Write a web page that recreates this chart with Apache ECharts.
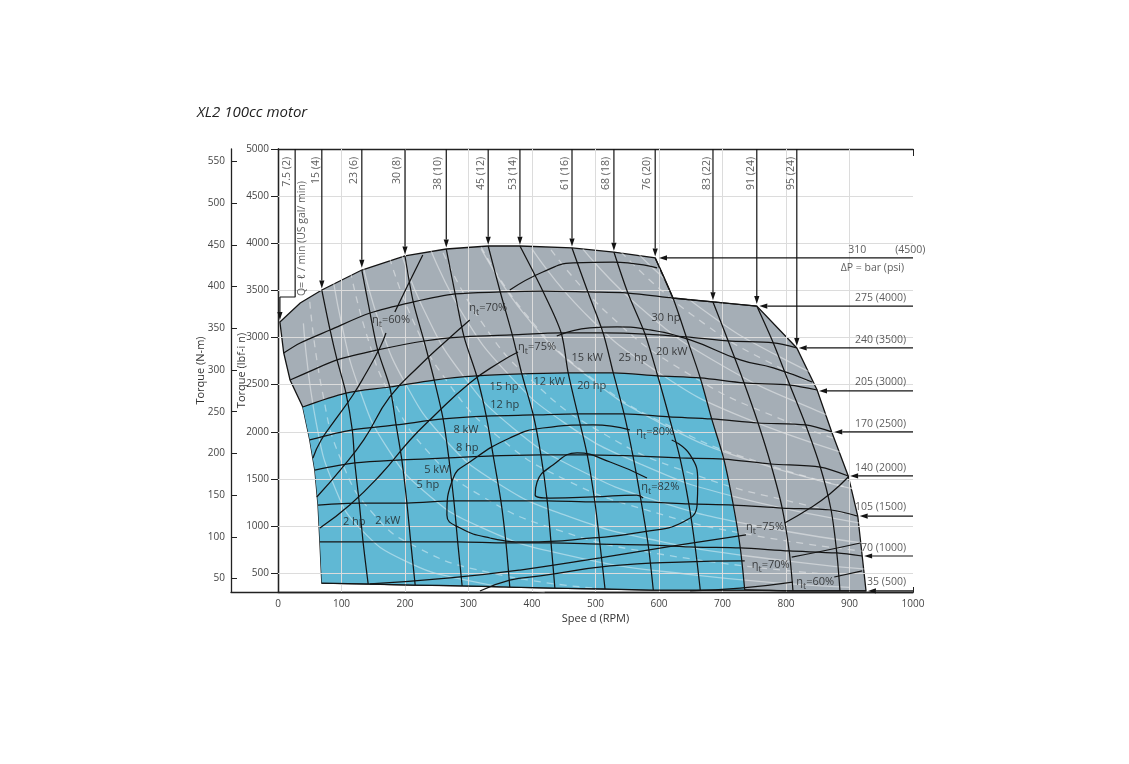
<!DOCTYPE html>
<html><head><meta charset="utf-8">
<script src="https://cdn.jsdelivr.net/npm/echarts@6/dist/echarts.min.js"></script>
<style>html,body{margin:0;padding:0;background:#fff}#c{width:1129px;height:764px}</style>
</head><body><div id="c"></div>
<script>
const FONT = '"Open Sans","DejaVu Sans",sans-serif';
// ticks
const speedTicks = [0,100,200,300,400,500,600,700,800,900,1000];
const lbfTicks = [500,1000,1500,2000,2500,3000,3500,4000,4500,5000];
const nmTicks = [50,100,150,200,250,300,350,400,450,500,550];
const LBF_PER_NM = 8.8507;

// constant pressure lines [rpm, lbf-in]
const p310 = [[3,3165],[35,3366],[69,3504],[132,3716],[200,3865],[265,3939],[331,3971],[381,3971],[463,3950],[529,3907],[594,3844]];
const p275 = [[9,2836],[35,2942],[82,3080],[145,3260],[213,3377],[279,3462],[350,3483],[417,3493],[488,3483],[551,3472],[622,3419],[685,3377],[754,3334]];
const p240 = [[19,2549],[50,2640],[93,2762],[157,2868],[230,2963],[293,3006],[369,3027],[446,3048],[512,3048],[578,3037],[643,3006],[709,2963],[780,2942],[817,2889]];
const p205 = [[39,2263],[107,2411],[176,2475],[246,2549],[313,2592],[384,2613],[457,2624],[528,2624],[598,2592],[665,2571],[734,2518],[806,2496],[849,2443]];
const p170 = [[50,1913],[117,2019],[186,2072],[260,2136],[328,2167],[402,2178],[472,2189],[545,2189],[616,2157],[683,2136],[756,2093],[831,2072],[872,1998]];
const p140 = [[58,1594],[121,1669],[195,1701],[269,1722],[339,1743],[414,1754],[487,1754],[559,1743],[633,1722],[702,1711],[776,1658],[854,1626],[898,1531]];
const p105 = [[63,1223],[128,1244],[203,1244],[277,1266],[351,1266],[424,1266],[499,1255],[572,1255],[647,1234],[717,1223],[794,1191],[871,1170],[913,1106]];
const p70 = [[66,831],[134,831],[209,831],[283,831],[359,820],[430,820],[507,809],[583,799],[657,777],[728,767],[805,735],[880,714],[920,682]];
const p35 = [[69,395],[142,385],[216,374],[290,364],[365,353],[436,342],[515,332],[591,321],[665,321],[735,321],[811,311],[885,311],[926,311]];

// constant flow lines
const q7 = [[69,395],[66,831],[63,1223],[58,1594],[50,1913],[39,2263],[19,2549],[9,2836],[3,3165]];
const q15 = [[69,3504],[82,3080],[93,2762],[107,2411],[117,2019],[121,1669],[128,1244],[134,831],[142,385]];
const q23 = [[132,3716],[145,3260],[157,2868],[176,2475],[186,2072],[195,1701],[203,1244],[209,831],[216,374]];
const q30 = [[200,3865],[213,3377],[230,2963],[246,2549],[260,2136],[269,1722],[277,1266],[283,831],[290,364]];
const q38 = [[265,3939],[279,3462],[293,3006],[313,2592],[328,2167],[339,1743],[351,1266],[359,820],[365,353]];
const q45 = [[331,3971],[350,3483],[369,3027],[384,2613],[402,2178],[414,1754],[424,1266],[430,820],[436,342]];
const q53 = [[381,3971],[417,3493],[446,3048],[457,2624],[472,2189],[487,1754],[499,1255],[507,809],[515,332]];
const q61 = [[463,3950],[488,3483],[512,3048],[528,2624],[545,2189],[559,1743],[572,1255],[583,799],[591,321]];
const q68 = [[529,3907],[551,3472],[578,3037],[598,2592],[616,2157],[633,1722],[647,1234],[657,777],[665,321]];
const q76 = [[594,3844],[622,3419],[643,3006],[665,2571],[683,2136],[702,1711],[717,1223],[728,767],[735,321]];
const q83 = [[685,3377],[709,2963],[734,2518],[756,2093],[776,1658],[794,1191],[805,735],[811,311]];
const q91 = [[754,3334],[780,2942],[806,2496],[831,2072],[854,1626],[871,1170],[880,714],[885,311]];
const rightEdge = [[754,3334],[817,2889],[849,2443],[872,1998],[898,1531],[913,1106],[920,682],[926,311]];

// efficiency contours (split where labels sit)
const eta60a = [[[228,3876],[203,3536],[184,3271]], [[170,3048],[161,2900],[137,2602],[118,2390],[90,2125],[68,1913],[55,1722]]];
const eta70a = [[[61,1308],[98,1594],[135,1913],[176,2369],[224,2708],[263,2953],[302,3186]], [[365,3504],[417,3695],[465,3791],[528,3801],[597,3738]]];
const eta75a = [[[66,979],[113,1223],[161,1541],[208,1913],[239,2125],[302,2518],[350,2740],[378,2846]], [[439,3016],[491,3101],[534,3112],[586,3080],[649,2974],[728,2762],[780,2677],[841,2528]]];
const eta75b = [[[145,385],[271,449],[381,533],[507,661],[633,799],[737,905]], [[798,1032],[838,1191],[869,1340],[898,1520]]];
const eta70b = [[[318,311],[365,427],[413,470],[523,576],[633,618],[735,629]], [[809,671],[858,735],[917,820]]];
const eta60b = [[[649,311],[728,342],[811,406]], [[876,459],[920,523]]];
const eta80 = [[554,2019],[496,2072],[417,2040],[365,1934],[302,1679],[276,1510],[266,1117],[287,979],[334,873],[392,831],[496,873],[575,937],[638,1043],[660,1223],[661,1467],[649,1754],[620,1913]];
const eta82 = [[581,1510],[523,1679],[471,1775],[433,1647],[408,1467],[405,1329],[428,1297],[496,1308],[565,1329],[575,1297]];

// faint constant-power curves
const hpCurves = [
  [[40,3150],[60,2100],[90,1400],[130,970],[200,630],[300,420],[420,300]],
  [[80,3940],[100,3150],[130,2420],[170,1850],[230,1370],[320,985],[450,700],[650,485],[900,350]],
  [[130,3880],[160,3150],[200,2520],[260,1940],[340,1480],[450,1120],[600,840],[800,630],[950,530]],
  [[190,3980],[230,3290],[290,2610],[370,2040],[470,1610],[600,1260],[760,995],[950,796]],
  [[240,3940],[290,3260],[360,2630],[450,2100],[570,1660],[720,1310],[950,995]],
  [[320,3940],[390,3230],[480,2630],[600,2100],[750,1680],[950,1330]],
  [[400,3940],[480,3280],[590,2670],[730,2160],[950,1660]],
  [[480,3940],[570,3320],[690,2740],[850,2220],[950,1990]],
  [[560,3940],[660,3340],[800,2760],[950,2320]]
];
const kwCurves = [
  [[50,3380],[70,2420],[100,1690],[150,1130],[220,770],[330,510],[500,340]],
  [[110,3840],[140,3020],[180,2350],[240,1760],[320,1320],[440,960],[600,704],[850,497]],
  [[170,3980],[210,3220],[270,2500],[350,1930],[450,1500],[580,1170],[750,900],[950,712]],
  [[260,3900],[320,3170],[400,2540],[510,1990],[650,1560],[820,1240],[950,1070]],
  [[320,3960],[390,3250],[490,2590],[620,2050],[780,1630],[950,1330]],
  [[430,3930],[520,3250],[640,2640],[790,2140],[950,1780]],
  [[540,3910],[650,3250],[790,2680],[950,2220]]
];

// flow arrows (top) and pressure arrows (right)
const flowNames = ['15 (4)','23 (6)','30 (8)','38 (10)','45 (12)','53 (14)','61 (16)','68 (18)','76 (20)','83 (22)','91 (24)','95 (24)'];
const flowArrowX = [69,132,200,265,331,381,463,529,594,685,754,817];
const flowArrowTip = [3520,3740,3880,3955,3985,3985,3965,3920,3860,3395,3355,2910];
const flowLabelX = [60,120,187,252,320,370,452,517,581,676,745,808];
const q7Path = [[27,5000],[27,3430],[3,3430]];
const q7Tip = [3,3186];
const pressNames = ['275 (4000)','240 (3500)','205 (3000)','170 (2500)','140 (2000)','105 (1500)','70 (1000)','35 (500)'];
const pressArrowY = [3844,3334,2889,2433,1998,1531,1106,682,311];
const pressArrowTip = [600,758,820,852,876,901,916,923,929];
const pressLabelY = [3419,2974,2528,2082,1616,1202,767,406];

// text labels inside the map
const effLabels = [
  {t:'60%', p:[178,3175]},{t:'70%', p:[331,3302]},{t:'75%', p:[408,2889]},{t:'80%', p:[594,1987]},
  {t:'82%', p:[602,1403]},{t:'75%', p:[767,979]},{t:'70%', p:[776,576]},{t:'60%', p:[846,395]}
];
const powerLabels = [
  {t:'30 hp', p:[611,3207]},{t:'15 kW', p:[487,2783]},{t:'25 hp', p:[559,2783]},{t:'20 kW', p:[620,2846]},
  {t:'15 hp', p:[356,2475]},{t:'12 kW', p:[427,2528]},{t:'20 hp', p:[494,2486]},{t:'12 hp', p:[357,2284]},
  {t:'8 kW', p:[296,2019]},{t:'8 hp', p:[298,1828]},{t:'5 kW', p:[250,1594]},{t:'5 hp', p:[236,1435]},
  {t:'2 hp', p:[120,1043]},{t:'2 kW', p:[173,1053]}
];

// regions
const grayRegion = [].concat(p310, [[622,3419],[685,3377]], rightEdge, p35.slice(0,-1).reverse(), q7.slice(1));
const blueRegion = [].concat(p205.slice(0,10), q76.slice(4), p35.slice(0,9).reverse(), q7.slice(1,5));

const INK = '#141414';
const LINE = {color:INK, width:1.25};
function lineS(data, extra){
  return Object.assign({type:'line', data:data, symbol:'none', showSymbol:false, smooth:0.3, silent:true,
    lineStyle:LINE, z:6, animation:false, xAxisIndex:0, yAxisIndex:0}, extra||{});
}
function polyS(points, fill, stroke, z){
  return {type:'custom', silent:true, z:z, xAxisIndex:0, yAxisIndex:0, data:[[500,2000]], animation:false,
    renderItem:function(params, api){
      return {type:'polygon', shape:{points: points.map(function(p){return api.coord(p);})},
        style:{fill:fill, stroke: stroke || 'none', lineWidth: stroke ? 1.3 : 0}};
    }};
}
// arrow: line + filled head, all positions from api.coord
function arrowS(pairs, z){
  return {type:'custom', silent:true, z:z, xAxisIndex:0, yAxisIndex:0, animation:false,
    data: pairs.map(function(pr){ return [pr[0][0], pr[0][1], pr[1][0], pr[1][1]]; }),
    renderItem:function(params, api){
      const a = api.coord([api.value(0), api.value(1)]);
      const b = api.coord([api.value(2), api.value(3)]);
      const dx = b[0]-a[0], dy = b[1]-a[1], L = Math.sqrt(dx*dx+dy*dy) || 1;
      const ux = dx/L, uy = dy/L, hl = 8, hw = 2.6;
      const base = [b[0]-ux*hl, b[1]-uy*hl];
      return {type:'group', children:[
        {type:'line', shape:{x1:a[0], y1:a[1], x2:base[0], y2:base[1]}, style:{stroke:INK, lineWidth:1.2}},
        {type:'polygon', shape:{points:[b, [base[0]-uy*hw, base[1]+ux*hw], [base[0]+uy*hw, base[1]-ux*hw]]}, style:{fill:INK}}
      ]};
    }};
}

const series = [];
// gridlines
series.push({type:'line', data:[[0,300]], symbol:'none', lineStyle:{width:0}, silent:true, z:1, animation:false,
  markLine:{silent:true, symbol:'none', animation:false, label:{show:false},
    lineStyle:{color:'#dcdcdc', width:1, type:'solid'},
    data: lbfTicks.filter(v=>v<5000).map(v=>({yAxis:v})).concat(speedTicks.filter(v=>v>0&&v<1000).map(v=>({xAxis:v})))}});
series.push(polyS(grayRegion, '#a5aeb6', INK, 2));
series.push(polyS(blueRegion, '#60b8d4', null, 3));
hpCurves.forEach(c => series.push(lineS(c, {smooth:true, z:4, lineStyle:{color:'rgba(255,255,255,0.42)', width:1.3}})));
kwCurves.forEach(c => series.push(lineS(c, {smooth:true, z:4, lineStyle:{color:'rgba(255,255,255,0.42)', width:1.3, type:[7,6]}})));
[p275,p240,p205,p170,p140,p105,p70,p35].forEach(d => series.push(lineS(d)));
[q15,q23,q30,q38,q45,q53,q61,q68,q76,q83,q91].forEach(d => series.push(lineS(d)));
[eta60a,eta70a,eta75a,eta75b,eta70b,eta60b].forEach(segs => segs.forEach(s => series.push(lineS(s, {smooth:0.5}))));
series.push(lineS(eta80, {smooth:0.5}));
series.push(lineS(eta82, {smooth:0.5}));

// arrows
const arrowPairs = [[q7Path[q7Path.length-1], q7Tip]]
  .concat(flowArrowX.map((x,i)=>[[x,5000],[x,flowArrowTip[i]]]))
  .concat(pressArrowY.map((y,i)=>[[1000,y],[pressArrowTip[i],y]]));
series.push(lineS(q7Path, {smooth:false, z:8, lineStyle:{color:INK, width:1.2}}));
series.push(arrowS(arrowPairs, 8));

function labelS(data, label, z){
  return {type:'scatter', xAxisIndex:0, yAxisIndex:0, symbolSize:1, itemStyle:{color:'rgba(0,0,0,0)'}, silent:true, z:z||10, animation:false,
    data:data, label:Object.assign({show:true, formatter:function(p){return p.name;}}, label)};
}
const smallTxt = {color:'#333', fontSize:10.5, fontFamily:FONT};
// flow labels
series.push(labelS(flowNames.map((n,i)=>({name:n, value:[flowLabelX[i], 4915]})).concat([{name:'7.5 (2)', value:[14,4915]}]),
  Object.assign({rotate:90, position:'inside', align:'right', verticalAlign:'middle'}, smallTxt)));
series.push(labelS([{name:'Q= ℓ / min (US gal/ min)', value:[38,4660]}],
  Object.assign({rotate:90, position:'inside', align:'right', verticalAlign:'middle'}, smallTxt)));
// pressure labels
series.push(labelS(pressNames.map((n,i)=>({name:n, value:[989, pressLabelY[i]]})).concat([{name:'ΔP = bar (psi)', value:[986,3738]}]),
  Object.assign({position:'inside', align:'right', verticalAlign:'middle'}, smallTxt)));
series.push(labelS([{name:'310', value:[898,3929]},{name:'(4500)', value:[972,3929]}],
  Object.assign({position:'inside', align:'left', verticalAlign:'middle'}, smallTxt)));
// power labels
series.push(labelS(powerLabels.map(o=>({name:o.t, value:o.p})), {position:'inside', align:'center', verticalAlign:'middle', color:'#1c1c1c', fontSize:11, fontFamily:FONT}, 11));
// efficiency labels
series.push(labelS(effLabels.map(o=>({name:o.t, value:o.p})), {position:'inside', align:'center', verticalAlign:'middle',
  formatter:function(p){return '{e|η}{s|t}{e|=' + p.name + '}';},
  rich:{e:{fontSize:11, color:'#1c1c1c', fontFamily:FONT, verticalAlign:'top', lineHeight:14},
        s:{fontSize:9, color:'#1c1c1c', fontFamily:FONT, verticalAlign:'top', padding:[6,0,0,0], lineHeight:14}}}, 11));

const axLine = {show:true, lineStyle:{color:'#222', width:1.3}};
const plain = function(v){ return String(Math.round(v)); };
const axLbl = {color:'#444', fontSize:10, fontFamily:FONT, formatter:plain};
const nameStyle = {color:'#333', fontSize:11, fontFamily:FONT};
const option = {
  animation:false,
  backgroundColor:'#fff',
  title:{text:'XL2 100cc motor', left:192, top:100, textStyle:{fontStyle:'italic', fontWeight:'normal', fontSize:15, color:'#222', fontFamily:FONT}},
  grid:[{left:278, right:216, top:149, bottom:172}, {left:231, right:216, top:149, bottom:172}],
  xAxis:[
    {gridIndex:0, type:'value', min:0, max:1000, interval:100, position:'bottom', axisLine:axLine,
      axisTick:{show:true, inside:true, length:5, lineStyle:{color:'#222'}}, axisLabel:Object.assign({margin:7}, axLbl), splitLine:{show:false},
      name:'Spee d (RPM)', nameLocation:'middle', nameGap:21, nameMoveOverlap:false, nameTextStyle:nameStyle},
    {gridIndex:0, type:'value', min:0, max:1000, interval:100, position:'top', axisLine:axLine,
      axisTick:{show:true, inside:true, length:7, lineStyle:{color:'#222'}}, axisLabel:{show:false}, splitLine:{show:false}},
    {gridIndex:1, type:'value', min:0, max:1, position:'bottom', axisLine:axLine, axisTick:{show:false}, axisLabel:{show:false}, splitLine:{show:false}}
  ],
  yAxis:[
    {gridIndex:0, type:'value', min:300, max:5000, position:'left', axisLine:axLine,
      axisTick:{show:true, inside:false, length:7, customValues:lbfTicks, lineStyle:{color:'#222'}},
      axisLabel:Object.assign({margin:9, customValues:lbfTicks}, axLbl), splitLine:{show:false},
      name:'Torque (lbf-i n)', nameLocation:'middle', nameRotate:90, nameGap:31, nameMoveOverlap:false, nameTextStyle:nameStyle},
    {gridIndex:0, type:'value', min:300, max:5000, position:'right', axisLine:axLine,
      axisTick:{show:true, inside:true, length:7, customValues:lbfTicks, lineStyle:{color:'#222'}}, axisLabel:{show:false}, splitLine:{show:false}},
    {gridIndex:1, type:'value', min:300/LBF_PER_NM, max:5000/LBF_PER_NM, position:'left', axisLine:axLine,
      axisTick:{show:true, inside:true, length:6, customValues:nmTicks, lineStyle:{color:'#222'}},
      axisLabel:Object.assign({margin:6, customValues:nmTicks}, axLbl), splitLine:{show:false},
      name:'Torque (N-m)', nameLocation:'middle', nameRotate:90, nameGap:25, nameMoveOverlap:false, nameTextStyle:nameStyle}
  ],
  series:series
};
const chart = echarts.init(document.getElementById('c'));
chart.setOption(option);
</script></body></html>
